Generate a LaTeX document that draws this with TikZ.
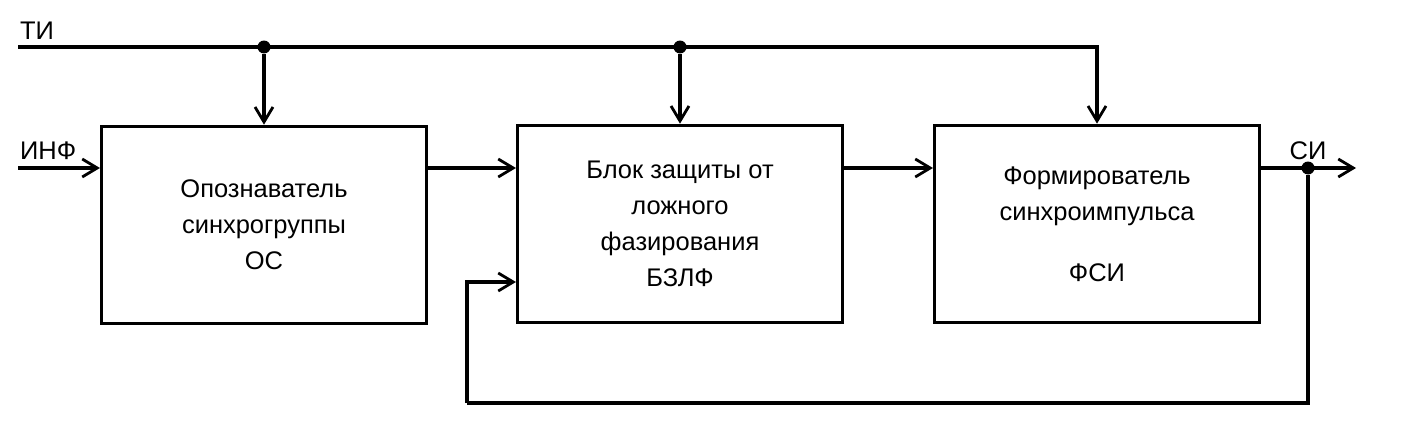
\documentclass[tikz,border=0pt]{standalone}
\usepackage{fontspec}
\setmainfont{Liberation Sans}
\usetikzlibrary{arrows.meta, calc}
\tikzset{
	% block diagram styles
	blk/.style ={rectangle, draw=black, line width=1.8pt, minimum width=6.5cm, minimum height=3.95cm, align=center, font=\fontsize{14.5}{20.5}\selectfont},
	sig/.style ={-{Straight Barb[length=3mm, width=3.6mm, line width=1.6pt]}, line width=1.8pt},
	wire/.style={line width=1.8pt},
	dot/.style ={circle, fill=black, inner sep=0pt, minimum size=2.6mm},
	lbl/.style ={font=\fontsize{14.5}{16}\selectfont, inner sep=1pt},
}
\begin{document}
\begin{tikzpicture}[x=0.02cm, y=0.02cm]
	\useasboundingbox (0,0) rectangle (1425,437);
	% blocks
	\node[blk] (os) at (264,212) {Опознаватель\\синхрогруппы\\ОС};
	\node[blk] (bzlf) at (680,213) {Блок защиты от\\ложного\\фазирования\\БЗЛФ};
	\node[blk] (fsi) at (1097,213) {Формирователь\\синхроимпульса\\[14pt]ФСИ};
	% inputs and outputs
	\coordinate (ti) at (18,390);
	\coordinate (inf) at (18,269);
	\coordinate (si) at (1356,269);
	\coordinate (fbx) at (467,34);
	\node[lbl, above right] at ($(ti)+(0,5)$) {ТИ};
	\node[lbl, above right] at ($(inf)+(0,6)$) {ИНФ};
	% clock bus
	\draw[sig] (ti) -| (fsi.north);
	\node[dot] (j1) at (os.north |- ti) {};
	\node[dot] (j2) at (bzlf.north |- ti) {};
	\draw[sig] (j1) -- (os.north);
	\draw[sig] (j2) -- (bzlf.north);
	% signal path
	\draw[sig] (inf) -- (os.west |- inf);
	\draw[sig] (os.east |- inf) -- (bzlf.west |- inf);
	\draw[sig] (bzlf.east |- inf) -- (fsi.west |- inf);
	\draw[sig] (fsi.east |- inf) -- (si);
	\node[dot] (j3) at (1308,269) {};
	\node[lbl, above] at ($(j3)+(0,6)$) {СИ};
	% feedback
	\draw[wire] (j3) |- (fbx);
	\draw[sig] (fbx) |- ($(bzlf.west |- fbx)+(0,121)$);
\end{tikzpicture}
\end{document}
